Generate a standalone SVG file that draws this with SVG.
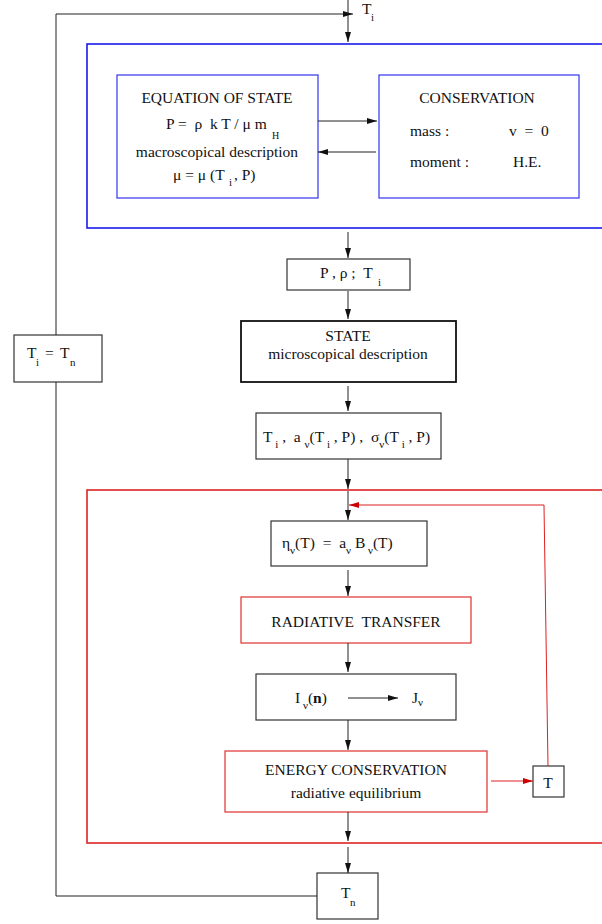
<svg xmlns="http://www.w3.org/2000/svg" width="602" height="924" viewBox="0 0 602 924">
<style>
text{font-family:"Liberation Serif","Times New Roman",serif;font-size:15.5px;fill:#111;white-space:pre}
.s{font-size:11px}
.c{text-anchor:middle}
.bx{fill:#fff;stroke:#333;stroke-width:1.2}
.bl{fill:none;stroke:#3333ee;stroke-width:1.2}
.rd{fill:none;stroke:#e03030;stroke-width:1.2}
.ln{fill:none;stroke:#222;stroke-width:1}
.lr{fill:none;stroke:#dd2020;stroke-width:1}
</style>
<defs>
<marker id="a" viewBox="0 0 10 6" refX="10" refY="3" markerWidth="10" markerHeight="6" markerUnits="userSpaceOnUse" orient="auto"><path d="M0,0L10,3L0,6z" fill="#111"/></marker>
<marker id="ar" viewBox="0 0 10 6" refX="10" refY="3" markerWidth="10" markerHeight="6" markerUnits="userSpaceOnUse" orient="auto"><path d="M0,0L10,3L0,6z" fill="#cc0000"/></marker>
</defs>
<g id="label-Ti-top">
<text x="362" y="14">T</text><text class="s" x="371" y="21">i</text>
</g>
<g id="outer-blue"><rect x="87" y="44" width="530" height="184" fill="none" stroke="#1a1aee" stroke-width="1.6"/></g>
<g id="eos">
<rect class="bl" x="117" y="75" width="201" height="123"/>
<text class="c" x="217" y="103">EQUATION OF STATE</text>
<text x="166" y="129">P =  ρ  k T / μ m</text><text class="s" x="272" y="139" style="font-size:10px">H</text>
<text class="c" x="217" y="157">macroscopical description</text>
<text x="173" y="180">μ = μ (T</text><text class="s" x="229" y="186">i</text><text x="234" y="180">, P)</text>
</g>
<g id="conservation">
<rect class="bl" x="379" y="75" width="200" height="123"/>
<text class="c" x="477" y="103">CONSERVATION</text>
<text x="410" y="136">mass :</text><text x="509" y="136">v  =  0</text>
<text x="410" y="167">moment :</text><text x="513" y="167">H.E.</text>
</g>
<g id="p-rho">
<rect class="bx" x="287" y="259" width="123" height="31"/>
<text x="320" y="278">P , ρ ;  T</text><text class="s" x="378" y="286">i</text>
</g>
<g id="state">
<rect x="241" y="321" width="215" height="61" fill="#fff" stroke="#111" stroke-width="1.8"/>
<text class="c" x="348" y="341">STATE</text>
<text class="c" x="348" y="359">microscopical description</text>
</g>
<g id="ti-eq-tn">
<rect class="bx" x="14" y="335" width="88" height="47"/>
<text x="27" y="358">T</text><text class="s" x="36" y="366">i</text><text x="45" y="358">=</text><text x="60" y="358">T</text><text class="s" x="70" y="366">n</text>
</g>
<g id="coeffs">
<rect class="bx" x="256" y="413" width="185" height="46"/>
<text x="263" y="442">T<tspan class="s" dy="6"> i</tspan><tspan dy="-6"> ,  a </tspan><tspan class="s" dy="6">ν</tspan><tspan dy="-6">(T</tspan><tspan class="s" dy="6"> i</tspan><tspan dy="-6"> , P) ,  σ</tspan><tspan class="s" dy="6">ν</tspan><tspan dy="-6">(T</tspan><tspan class="s" dy="6"> i</tspan><tspan dy="-6"> , P)</tspan></text>
</g>
<g id="red-box"><rect x="87" y="490" width="530" height="353" fill="none" stroke="#dd2222" stroke-width="1.6"/></g>
<g id="eta">
<rect class="bx" x="271" y="521" width="156" height="45"/>
<text x="282" y="548">η<tspan class="s" dy="6">ν</tspan><tspan dy="-6">(T)  =  a</tspan><tspan class="s" dy="6">ν</tspan><tspan dy="-6"> B</tspan><tspan class="s" dy="6"> ν</tspan><tspan dy="-6">(T)</tspan></text>
</g>
<g id="radiative-transfer">
<rect class="rd" x="241" y="597" width="230" height="46"/>
<text class="c" x="356" y="627">RADIATIVE  TRANSFER</text>
</g>
<g id="intensity">
<rect class="bx" x="256" y="674" width="200" height="46"/>
<text x="295" y="703">I<tspan class="s" dy="6"> ν</tspan><tspan dy="-6">(</tspan><tspan font-weight="bold">n</tspan><tspan>)</tspan></text>
<text x="412" y="703">J<tspan class="s" dy="3">ν</tspan></text>
</g>
<g id="energy">
<rect class="rd" x="225" y="751" width="262" height="61"/>
<text class="c" x="356" y="775">ENERGY CONSERVATION</text>
<text class="c" x="356" y="798">radiative equilibrium</text>
</g>
<g id="t-box">
<rect class="bx" x="533" y="766" width="31" height="31"/>
<text class="c" x="548" y="788">T</text>
</g>
<g id="tn">
<rect class="bx" x="317" y="873" width="61" height="46"/>
<text x="341" y="898">T</text><text class="s" x="350" y="906">n</text>
</g>
<g id="connectors">
<line class="ln" x1="348" y1="0" x2="348" y2="42" marker-end="url(#a)"/>
<polyline class="ln" points="56,335 56,14 353,14" marker-end="url(#a)"/>
<polyline class="ln" points="56,382 56,896 317,896"/>
<line class="ln" x1="318" y1="121" x2="377" y2="121" marker-end="url(#a)"/>
<line class="ln" x1="376" y1="152" x2="318" y2="152" marker-end="url(#a)"/>
<line class="ln" x1="348" y1="232" x2="348" y2="258" marker-end="url(#a)"/>
<line class="ln" x1="348" y1="291" x2="348" y2="319" marker-end="url(#a)"/>
<line class="ln" x1="348" y1="386" x2="348" y2="411" marker-end="url(#a)"/>
<line class="ln" x1="348" y1="459" x2="348" y2="489" marker-end="url(#a)"/>
<line class="ln" x1="348" y1="491" x2="348" y2="520" marker-end="url(#a)"/>
<line class="ln" x1="348" y1="570" x2="348" y2="596" marker-end="url(#a)"/>
<line class="ln" x1="348" y1="643" x2="348" y2="672" marker-end="url(#a)"/>
<line class="ln" x1="348" y1="720" x2="348" y2="750" marker-end="url(#a)"/>
<line class="ln" x1="348" y1="812" x2="348" y2="841" marker-end="url(#a)"/>
<line class="ln" x1="348" y1="847" x2="348" y2="873" marker-end="url(#a)"/>
<line class="ln" x1="348" y1="698" x2="398" y2="698" marker-end="url(#a)"/>
<line class="lr" x1="491" y1="781" x2="533" y2="781" marker-end="url(#ar)"/>
<polyline class="lr" points="548,766 544,505 349,505" marker-end="url(#ar)"/>
</g>
</svg>
